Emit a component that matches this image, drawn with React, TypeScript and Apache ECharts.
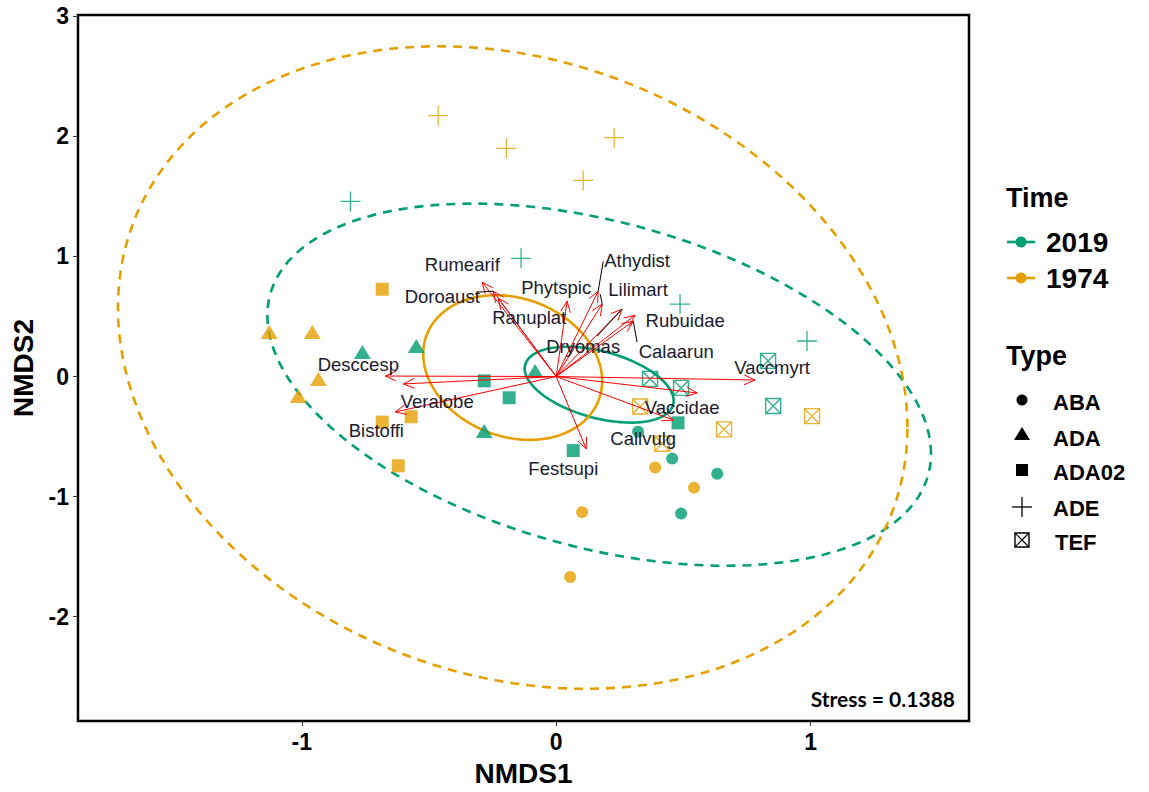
import React, { useEffect, useRef } from 'react';
import * as echarts from 'echarts';

const GREEN = '#009E73';
const ORANGE = '#E69F00';
const FONT = '"Liberation Sans", Arial, sans-serif';

const xTicks = [-1, 0, 1];
const yTicks = [-2, -1, 0, 1, 2, 3];
const timeLevels = ['2019', '1974'];
const typeLevels = ['ABA', 'ADA', 'ADA02', 'ADE', 'TEF'];

// site scores, 2019
const aba2019 = [[0.322, -0.46], [0.456, -0.684], [0.633, -0.81], [0.491, -1.142]];
const ada2019 = [[-0.762, 0.204], [-0.55, 0.254], [-0.283, -0.453], [-0.083, 0.046]];
const ada02of2019 = [[-0.283, -0.036], [-0.185, -0.177], [0.067, -0.617], [0.479, -0.386]];
const ade2019 = [[-0.809, 1.459], [-0.138, 0.985], [0.487, 0.604], [0.986, 0.296]];
const tef2019 = [[0.369, -0.02], [0.491, -0.095], [0.833, 0.13], [0.853, -0.245]];
// site scores, 1974
const aba1974 = [[0.389, -0.758], [0.542, -0.926], [0.102, -1.13], [0.055, -1.67]];
const ada1974 = [[-1.128, 0.37], [-0.959, 0.37], [-0.935, -0.02], [-1.014, -0.162]];
const ada02of1974 = [[-0.684, 0.727], [-0.684, -0.38], [-0.57, -0.335], [-0.621, -0.744]];
const ade1974 = [[-0.464, 2.174], [-0.196, 1.9], [0.106, 1.634], [0.228, 1.99]];
const tef1974 = [[0.33, -0.25], [0.66, -0.44], [1.006, -0.33], [0.417, -0.56]];

// ellipses: [centreX, centreY, varX, covXY, varY]
const ellipse2019Sd = [0.169, -0.068, 1.702, -0.751, 2.276];
const ellipse2019Se = [0.169, -0.068, 0.0857, -0.0392, 0.0998];
const ellipse1974Sd = [-0.171, 0.075, 2.409, -0.774, 7.165];
const ellipse1974Se = [-0.171, 0.075, 0.1237, -0.0397, 0.3632];

// species vectors
const speciesNames = ['Rumearif', 'Doroaust', 'Ranuplat', 'Phytspic', 'Athydist', 'Lilimart', 'Dryomas', 'Rubuidae', 'Calaarun', 'Desccesp', 'Veralobe', 'Bistoffi', 'Festsupi', 'Vaccmyrt', 'Vaccidae', 'Callvulg'];
const arrowX = [-0.291, -0.248, -0.228, 0.043, 0.165, 0.181, 0.259, 0.31, 0.303, -0.672, -0.601, -0.633, 0.118, 0.782, 0.554, 0.46];
const arrowY = [0.786, 0.711, 0.653, 0.628, 0.711, 0.603, 0.561, 0.511, 0.461, 0.004, -0.062, -0.295, -0.603, -0.029, -0.137, -0.362];
const labelX = [-0.369, -0.448, -0.106, 0.0, 0.318, 0.322, 0.106, 0.507, 0.472, -0.778, -0.468, -0.707, 0.028, 0.849, 0.495, 0.342];
const labelY = [0.935, 0.669, 0.495, 0.744, 0.968, 0.727, 0.254, 0.47, 0.212, 0.096, -0.204, -0.453, -0.769, 0.079, -0.262, -0.52];

// label leader segments (from point near label to vector tip)
const leaderNames = ['Doroaust', 'Athydist', 'Lilimart', 'Dryomas', 'Calaarun'];
const leaderFromX = [-0.31, 0.185, 0.173, 0.161, 0.318];
const leaderFromY = [0.703, 0.96, 0.685, 0.337, 0.287];

const stressText = 'Stress = 0.1388';

const PLUS = 'path://M10,0V20M0,10H20';
const BOXX = 'path://M0,0H20V20H0ZM0,0L20,20M20,0L0,20';

function scatterSeries(name: string, data: number[][], color: string, type: string) {
  const base: any = { type: 'scatter', name, data, z: 3, silent: true };
  if (type === 'ABA') return { ...base, symbol: 'circle', symbolSize: 12, itemStyle: { color } };
  if (type === 'ADA') return { ...base, symbol: 'triangle', symbolSize: [17, 14], itemStyle: { color } };
  if (type === 'ADA02') return { ...base, symbol: 'rect', symbolSize: 13, itemStyle: { color } };
  if (type === 'ADE') return { ...base, symbol: PLUS, symbolSize: 20, itemStyle: { color: 'transparent', borderColor: color, borderWidth: 1.3 } };
  return { ...base, symbol: BOXX, symbolSize: 15, itemStyle: { color: 'transparent', borderColor: color, borderWidth: 1.4 } };
}

function ellipseSeries(rows: number[][], color: string, dashed: boolean[]) {
  return {
    type: 'custom',
    z: 2,
    silent: true,
    data: rows,
    encode: { x: 0, y: 1 },
    renderItem: (params: any, api: any) => {
      const cx = api.value(0), cy = api.value(1);
      const vxx = api.value(2), vxy = api.value(3), vyy = api.value(4);
      const l11 = Math.sqrt(vxx);
      const l21 = vxy / l11;
      const l22 = Math.sqrt(vyy - l21 * l21);
      const pts: number[][] = [];
      const n = 160;
      for (let i = 0; i <= n; i++) {
        const t = (i / n) * Math.PI * 2;
        const c = Math.cos(t), s = Math.sin(t);
        pts.push(api.coord([cx + l11 * c, cy + l21 * c + l22 * s]));
      }
      const d = dashed[params.dataIndex];
      return {
        type: 'polyline',
        shape: { points: pts },
        style: { stroke: color, lineWidth: 2.6, fill: 'none', lineDash: d ? [9, 7] : null },
      };
    },
  };
}

function arrowSeries() {
  return {
    type: 'custom',
    z: 4,
    silent: true,
    data: arrowX.map((x, i) => [x, arrowY[i]]),
    encode: { x: 0, y: 1 },
    renderItem: (params: any, api: any) => {
      const o = api.coord([0, 0]);
      const p = api.coord([api.value(0), api.value(1)]);
      const ang = Math.atan2(p[1] - o[1], p[0] - o[0]);
      const hl = 12, ha = Math.PI / 7.5;
      const h1 = [p[0] - hl * Math.cos(ang - ha), p[1] - hl * Math.sin(ang - ha)];
      const h2 = [p[0] - hl * Math.cos(ang + ha), p[1] - hl * Math.sin(ang + ha)];
      return {
        type: 'group',
        children: [
          { type: 'line', shape: { x1: o[0], y1: o[1], x2: p[0], y2: p[1] }, style: { stroke: '#FF0000', lineWidth: 1 } },
          { type: 'polyline', shape: { points: [h1, p, h2] }, style: { stroke: '#FF0000', lineWidth: 1, fill: 'none' } },
        ],
      };
    },
  };
}

function leaderSeries() {
  return {
    type: 'custom',
    z: 5,
    silent: true,
    data: leaderNames.map((nm, i) => {
      const k = speciesNames.indexOf(nm);
      return [leaderFromX[i], leaderFromY[i], arrowX[k], arrowY[k]];
    }),
    encode: { x: 0, y: 1 },
    renderItem: (params: any, api: any) => {
      const a = api.coord([api.value(0), api.value(1)]);
      const b = api.coord([api.value(2), api.value(3)]);
      return { type: 'line', shape: { x1: a[0], y1: a[1], x2: b[0], y2: b[1] }, style: { stroke: '#000', lineWidth: 1 } };
    },
  };
}

function labelSeries() {
  return {
    type: 'custom',
    z: 6,
    silent: true,
    data: labelX.map((x, i) => [x, labelY[i]]),
    encode: { x: 0, y: 1 },
    renderItem: (params: any, api: any) => {
      const p = api.coord([api.value(0), api.value(1)]);
      return {
        type: 'text',
        x: p[0],
        y: p[1],
        style: {
          text: speciesNames[params.dataIndex],
          fill: '#1a1a2e',
          font: `18.5px ${FONT}`,
          textAlign: 'center',
          textVerticalAlign: 'middle',
          align: 'center',
          verticalAlign: 'middle',
        },
      };
    },
  };
}

function legendGraphics() {
  const els: any[] = [];
  const tx = (text: string, x: number, y: number, size: number) => ({
    type: 'text',
    x,
    y,
    style: { text, fill: '#000', font: `bold ${size}px ${FONT}`, textAlign: 'left', textVerticalAlign: 'middle', align: 'left', verticalAlign: 'middle' },
  });
  els.push(tx('Time', 1006, 198, 27));
  const timeColors = [GREEN, ORANGE];
  const timeY = [242, 278];
  timeLevels.forEach((t, i) => {
    els.push({ type: 'line', shape: { x1: 1007, y1: timeY[i], x2: 1035, y2: timeY[i] }, style: { stroke: timeColors[i], lineWidth: 2.6 } });
    els.push({ type: 'circle', shape: { cx: 1021, cy: timeY[i], r: 5.5 }, style: { fill: timeColors[i] } });
    els.push(tx(t, 1046, timeY[i], 28));
  });
  els.push(tx('Type', 1006, 356, 27));
  const typeY = [401, 437, 471, 507, 541];
  const sx = 1022;
  typeLevels.forEach((t, i) => {
    const y = typeY[i];
    if (t === 'ABA') els.push({ type: 'circle', shape: { cx: sx, cy: y - 1, r: 5.5 }, style: { fill: '#000' } });
    if (t === 'ADA') els.push({ type: 'polygon', shape: { points: [[sx, y - 10], [sx - 8, y + 3], [sx + 8, y + 3]] }, style: { fill: '#000' } });
    if (t === 'ADA02') els.push({ type: 'rect', shape: { x: sx - 6, y: y - 7, width: 12, height: 12 }, style: { fill: '#000' } });
    if (t === 'ADE') {
      els.push({ type: 'line', shape: { x1: sx - 10, y1: y, x2: sx + 10, y2: y }, style: { stroke: '#000', lineWidth: 1.3 } });
      els.push({ type: 'line', shape: { x1: sx, y1: y - 10, x2: sx, y2: y + 10 }, style: { stroke: '#000', lineWidth: 1.3 } });
    }
    if (t === 'TEF') {
      els.push({ type: 'rect', shape: { x: sx - 7, y: y - 8, width: 14, height: 14 }, style: { fill: 'none', stroke: '#000', lineWidth: 1.4 } });
      els.push({ type: 'line', shape: { x1: sx - 7, y1: y - 8, x2: sx + 7, y2: y + 6 }, style: { stroke: '#000', lineWidth: 1.2 } });
      els.push({ type: 'line', shape: { x1: sx + 7, y1: y - 8, x2: sx - 7, y2: y + 6 }, style: { stroke: '#000', lineWidth: 1.2 } });
    }
    els.push(tx(t, t === 'TEF' ? 1055 : 1053, y + 1, 22));
  });
  els.push({
    type: 'text',
    x: 955,
    y: 698,
    style: { text: stressText, fill: '#000', font: `bold 21px Lato, "Open Sans", sans-serif`, textAlign: 'right', textVerticalAlign: 'middle', align: 'right', verticalAlign: 'middle' },
  });
  return els;
}

export default function App() {
  const ref = useRef<HTMLDivElement>(null);
  useEffect(() => {
    if (!ref.current) return;
    const chart = echarts.init(ref.current, undefined, { renderer: 'svg' });
    const option: any = {
      animation: false,
      backgroundColor: '#fff',
      textStyle: { fontFamily: FONT },
      grid: { left: 78, top: 15, width: 891, height: 708, show: true, borderColor: '#000', borderWidth: 2.5, backgroundColor: '#fff' },
      xAxis: {
        type: 'value',
        min: -1.88,
        max: 1.623,
        position: 'bottom',
        axisLine: { show: false, onZero: false },
        splitLine: { show: false },
        axisTick: { show: true, customValues: xTicks, length: 5, lineStyle: { color: '#333', width: 1 } },
        axisLabel: { customValues: xTicks, fontSize: 23, fontWeight: 'bold', color: '#000', margin: 9, fontFamily: FONT },
        name: 'NMDS1',
        nameLocation: 'middle',
        nameGap: 38,
        nameTextStyle: { fontSize: 28, fontWeight: 'bold', color: '#000', fontFamily: FONT },
      },
      yAxis: {
        type: 'value',
        min: -2.87,
        max: 3.012,
        position: 'left',
        axisLine: { show: false, onZero: false },
        splitLine: { show: false },
        axisTick: { show: true, customValues: yTicks, length: 5, lineStyle: { color: '#333', width: 1 } },
        axisLabel: { customValues: yTicks, fontSize: 23, fontWeight: 'bold', color: '#000', margin: 9, fontFamily: FONT },
        name: 'NMDS2',
        nameLocation: 'middle',
        nameGap: 38,
        nameTextStyle: { fontSize: 28, fontWeight: 'bold', color: '#000', fontFamily: FONT },
      },
      series: [
        ellipseSeries([ellipse2019Sd, ellipse2019Se], GREEN, [true, false]),
        ellipseSeries([ellipse1974Sd, ellipse1974Se], ORANGE, [true, false]),
        scatterSeries('2019 ABA', aba2019, GREEN, 'ABA'),
        scatterSeries('2019 ADA', ada2019, GREEN, 'ADA'),
        scatterSeries('2019 ADA02', ada02of2019, GREEN, 'ADA02'),
        scatterSeries('2019 ADE', ade2019, GREEN, 'ADE'),
        scatterSeries('2019 TEF', tef2019, GREEN, 'TEF'),
        scatterSeries('1974 ABA', aba1974, ORANGE, 'ABA'),
        scatterSeries('1974 ADA', ada1974, ORANGE, 'ADA'),
        scatterSeries('1974 ADA02', ada02of1974, ORANGE, 'ADA02'),
        scatterSeries('1974 ADE', ade1974, ORANGE, 'ADE'),
        scatterSeries('1974 TEF', tef1974, ORANGE, 'TEF'),
        arrowSeries(),
        leaderSeries(),
        labelSeries(),
      ],
      graphic: legendGraphics(),
    };
    chart.setOption(option);
    return () => chart.dispose();
  }, []);
  return <div ref={ref} style={{ position: 'fixed', left: 0, top: 0, width: 1149, height: 792 }} />;
}
